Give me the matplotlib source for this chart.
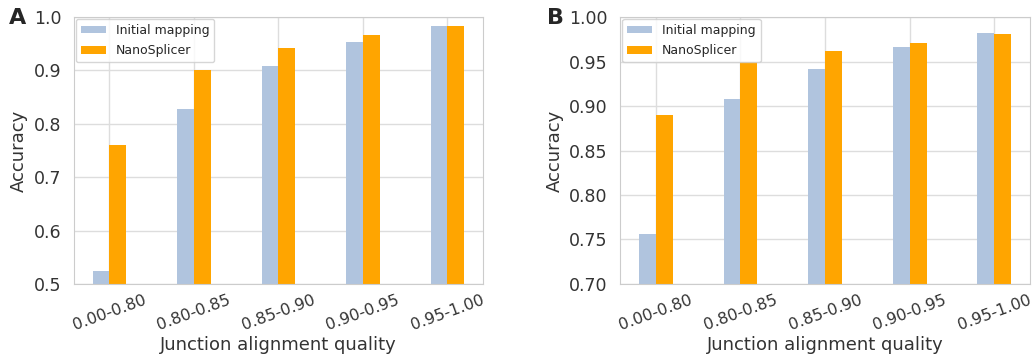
import numpy as np
import matplotlib
matplotlib.use("Agg")
import matplotlib.pyplot as plt
import seaborn as sns

sns.set_style("whitegrid")
plt.rcParams['font.family'] = ['DejaVu Sans']

categories = ["0.00-0.80", "0.80-0.85", "0.85-0.90", "0.90-0.95", "0.95-1.00"]
a_initial = [0.524, 0.828, 0.909, 0.953, 0.984]
a_nano = [0.761, 0.901, 0.942, 0.966, 0.983]
b_initial = [0.756, 0.908, 0.942, 0.966, 0.982]
b_nano = [0.890, 0.950, 0.962, 0.971, 0.981]

c_init = "#b0c4de"
c_nano = "#ffa500"

fig = plt.figure(figsize=(10.32, 3.62), dpi=100)
axA = fig.add_axes([0.0717, 0.2155, 0.3963, 0.7375])
axB = fig.add_axes([0.601, 0.2155, 0.397, 0.7375])

x = np.arange(len(categories))
w = 0.2

def panel(ax, init, nano, ylim, yticks, fmt):
    ax.bar(x - w / 2, init, w, color=c_init, linewidth=0, label="Initial mapping", zorder=2)
    ax.bar(x + w / 2, nano, w, color=c_nano, linewidth=0, label="NanoSplicer", zorder=2)
    ax.set_ylim(*ylim)
    ax.set_yticks(yticks)
    ax.set_yticklabels([fmt.format(t) for t in yticks], fontsize=12.5, color="#333333")
    ax.set_xticks(x)
    ax.set_xticklabels(categories, rotation=20, fontsize=11.5, color="#333333")
    ax.set_xlabel("Junction alignment quality", fontsize=13, color="#333333", labelpad=2)
    ax.set_ylabel("Accuracy", fontsize=13, color="#333333")
    ax.grid(True, color="#dddddd", linewidth=1)
    for s in ax.spines.values():
        s.set_color("#cccccc")
    ax.tick_params(axis="y", length=0, pad=9)
    ax.tick_params(axis="x", length=0, pad=6)
    ax.legend(loc="upper left", fontsize=9, frameon=True, borderaxespad=0.15,
              handlelength=2.0, handleheight=0.5, labelspacing=0.6)

panel(axA, a_initial, a_nano, (0.5, 1.0), [0.5, 0.6, 0.7, 0.8, 0.9, 1.0], "{:.1f}")
panel(axB, b_initial, b_nano, (0.7, 1.0), [0.70, 0.75, 0.80, 0.85, 0.90, 0.95, 1.00], "{:.2f}")

fig.text(0.009, 0.95, "A", fontsize=16, fontweight="bold", va="center")
fig.text(0.530, 0.95, "B", fontsize=16, fontweight="bold", va="center")

fig.savefig("out.png", dpi=100)
